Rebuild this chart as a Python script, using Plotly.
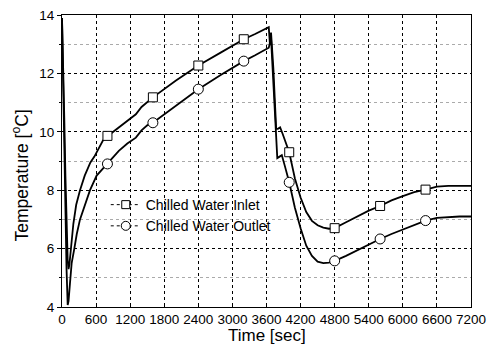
import plotly.graph_objects as go

# ---- data ----
time_in = [0, 20, 40, 60, 80, 100, 115, 130, 150, 175, 200, 250, 317, 400, 500, 570, 650, 720, 800,
           1000, 1200, 1300, 1400, 1600, 2000, 2400, 2800, 3200, 3400, 3600, 3640, 3660, 3680,
           3720, 3750, 3770, 3800, 3840, 3880, 3950, 4000, 4100, 4200, 4300, 4400, 4500, 4600,
           4700, 4800, 5000, 5200, 5400, 5600, 5800, 6000, 6200, 6400, 6600, 6800, 7000, 7200]
inlet = [13.9, 12.5, 10.5, 8.5, 6.8, 5.6, 5.3, 5.45, 5.85, 6.3, 6.85, 7.5, 8.0, 8.5, 8.95, 9.15, 9.45, 9.7, 9.85,
         10.15, 10.45, 10.6, 10.85, 11.18, 11.75, 12.27, 12.72, 13.17, 13.35, 13.52, 13.58, 13.0, 13.4,
         12.2, 11.0, 10.1, 10.1, 10.15, 9.95, 9.6, 9.3, 8.4, 7.75, 7.25, 6.95, 6.8, 6.72,
         6.68, 6.7, 6.9, 7.1, 7.3, 7.46, 7.65, 7.8, 7.93, 8.02, 8.12, 8.15, 8.15, 8.15]

time_out = [0, 20, 40, 60, 80, 100, 115, 140, 170, 217, 260, 317, 400, 493, 610, 700, 800,
            1000, 1150, 1300, 1400, 1500, 1600, 2000, 2400, 2800, 3200, 3400, 3600, 3640, 3680,
            3720, 3750, 3790, 3830, 3870, 3920, 4000, 4100, 4200, 4300, 4400, 4500, 4600, 4700,
            4800, 5000, 5200, 5400, 5600, 5800, 6000, 6200, 6400, 6600, 6800, 7000, 7200]
outlet = [13.9, 11.5, 9.0, 7.0, 5.3, 4.07, 4.2, 4.8, 5.5, 6.0, 6.5, 7.0, 7.5, 8.0, 8.5, 8.7, 8.9,
          9.35, 9.6, 9.8, 10.05, 10.22, 10.31, 10.9, 11.46, 11.95, 12.42, 12.62, 12.82, 12.88, 13.2,
          11.8, 10.5, 9.1, 9.15, 9.2, 8.85, 8.27, 7.4, 6.7, 6.1, 5.75, 5.55, 5.5, 5.52,
          5.58, 5.75, 5.95, 6.15, 6.33, 6.5, 6.65, 6.82, 6.96, 7.05, 7.08, 7.1, 7.1]

marker_time = [800, 1600, 2400, 3200, 4000, 4800, 5600, 6400]
inlet_marks = [9.86, 11.18, 12.27, 13.17, 9.3, 6.7, 7.46, 8.02]
outlet_marks = [8.9, 10.31, 11.46, 12.42, 8.27, 5.58, 6.33, 6.96]

series_names = ["Chilled Water Inlet", "Chilled Water Outlet"]
x_ticks = list(range(0, 7201, 600))
y_ticks = [4, 6, 8, 10, 12, 14]
y_minor = [5, 7, 9, 11, 13]
x_title = "Time [sec]"
y_title = "Temperature [<sup>o</sup>C]"

FONT = "Liberation Sans, Arial, sans-serif"

fig = go.Figure()
fig.add_trace(go.Scatter(x=time_in, y=inlet, mode="lines",
                         line=dict(color="black", width=1.8), showlegend=False))
fig.add_trace(go.Scatter(x=time_out, y=outlet, mode="lines",
                         line=dict(color="black", width=1.8), showlegend=False))
fig.add_trace(go.Scatter(x=marker_time, y=outlet_marks, mode="markers", showlegend=False,
                         marker=dict(symbol="circle", size=10, color="white",
                                     line=dict(color="black", width=1))))
fig.add_trace(go.Scatter(x=marker_time, y=inlet_marks, mode="markers", showlegend=False,
                         marker=dict(symbol="square", size=9, color="white",
                                     line=dict(color="black", width=1))))
# legend entries
fig.add_trace(go.Scatter(x=[None], y=[None], mode="lines+markers", name=series_names[0],
                         line=dict(color="black", width=1, dash="dot"),
                         marker=dict(symbol="square", size=8, color="white",
                                     line=dict(color="black", width=1))))
fig.add_trace(go.Scatter(x=[None], y=[None], mode="lines+markers", name=series_names[1],
                         line=dict(color="black", width=1, dash="dot"),
                         marker=dict(symbol="circle", size=9, color="white",
                                     line=dict(color="black", width=1))))

fig.update_layout(
    width=496, height=349,
    margin=dict(l=62, r=25, t=15, b=42),
    paper_bgcolor="white", plot_bgcolor="white",
    font=dict(family=FONT, color="black", size=14),
    legend=dict(x=0.107, y=0.404, xanchor="left", yanchor="top",
                bgcolor="rgba(0,0,0,0)", borderwidth=0,
                font=dict(size=14, family=FONT), tracegroupgap=0, itemwidth=30),
    annotations=[
        dict(text=x_title, xref="paper", yref="paper", x=0.5, y=-0.097,
             xanchor="center", yanchor="middle", showarrow=False,
             font=dict(size=17, family=FONT, color="black")),
        dict(text=y_title, xref="paper", yref="paper", x=-0.1015, y=0.452,
             xanchor="center", yanchor="middle", showarrow=False, textangle=-90,
             font=dict(size=17.5, family=FONT, color="black")),
    ],
)
fig.update_xaxes(
    range=[0, 7200], tickvals=x_ticks, ticktext=[str(v) for v in x_ticks],
    showline=True, linecolor="black", linewidth=1.2, mirror=True,
    ticks="inside", ticklen=4, tickcolor="black",
    showgrid=True, gridcolor="black", griddash="dot", gridwidth=1,
    zeroline=False, automargin=False,
    tickfont=dict(size=13.5, family=FONT),
)
fig.update_yaxes(
    range=[4, 14], tickvals=y_ticks, ticktext=[str(v) for v in y_ticks],
    showline=True, linecolor="black", linewidth=1.2, mirror=True,
    ticks="outside", ticklen=4, tickcolor="black",
    showgrid=True, gridcolor="black", griddash="dot", gridwidth=1,
    minor=dict(tickvals=y_minor, showgrid=True, gridcolor="#aaaaaa",
               griddash="dot", gridwidth=1, ticks="outside", ticklen=2, tickcolor="black"),
    zeroline=False, automargin=False,
    tickfont=dict(size=13.5, family=FONT),
)

fig.write_html("out.html")
